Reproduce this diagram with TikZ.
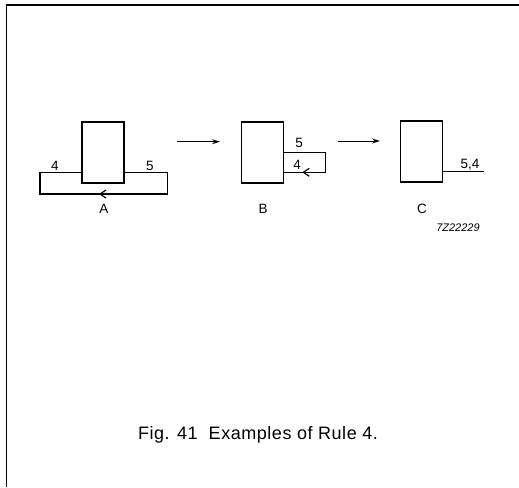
\documentclass[tikz,border=0pt]{standalone}
\usepackage{fontspec}
\setmainfont{Liberation Sans}
\usepackage{tikz}
\usetikzlibrary{arrows, arrows.meta, decorations.markings, positioning}

\begin{document}
\begin{tikzpicture}[
		x=1pt,
		y=-1pt,
		every node/.style={
				font=\fontsize{13.5}{14}\selectfont,
				inner sep=1pt
			},
		blk/.style={
				draw,
				line width=1.6pt,
				minimum width=42pt, % Width of a block
				minimum height=61pt, % Height of a block
				inner sep=0pt
			},
		wire/.style={line width=1.3pt},
		flow/.style={-{Stealth[length=8pt, width=5pt]}, line width=1pt},
		backtip/.style={
				postaction={decorate},
				decoration={markings, mark=at position #1 with {\arrow{Straight Barb[length=6pt, width=8pt, line width=1.2pt]}}}
			}
	]
	\useasboundingbox (0,0) rectangle (519,487);

	% frame
	\draw[line width=1.4pt] (6.7,487) -- (6.7,5) -- (519,5);

	% A
	\node[blk] (blkA) at (103,152.5) {};
	\coordinate (a1) at (167.7,172.7);
	\coordinate (a2) at (167.7,194);
	\coordinate (a3) at (40,194);
	\coordinate (a4) at (40,172.7);
	\draw[wire, backtip=133pt] (blkA.east |- a1) -- (a1) -- (a2) -- (a3) -- (a4) -- (blkA.west |- a4);
	\node (lA4) at (55,166) {4};
	\node (lA5) at (150,166) {5};
	\node (nameA) at (104,209) {A};

	% A -> B
	\coordinate (ab1) at (177,141.7);
	\coordinate (ab2) at (220,141.7);
	\draw[flow] (ab1) -- (ab2);

	% B
	\node[blk] (blkB) at (262.5,152.2) {};
	\coordinate (b1) at (325.7,152.2);
	\coordinate (b2) at (325.7,172.3);
	\draw[wire, backtip=85pt] (blkB.east) -- (b1) -- (b2) -- (blkB.east |- b2);
	\node (lB5) at (299,143) {5};
	\node (lB4) at (297,165) {4};
	\node (nameB) at (263,209) {B};

	% B -> C
	\coordinate (bc1) at (338,141);
	\coordinate (bc2) at (380,141);
	\draw[flow] (bc1) -- (bc2);

	% C
	\node[blk] (blkC) at (421.4,151.7) {};
	\coordinate (c1) at (484,171.7);
	\draw[wire] (blkC.east |- c1) -- (c1);
	\node (lC54) at (470,165) {5,4};
	\node (nameC) at (422,209) {C};
	\node[font=\fontsize{11}{12}\selectfont\itshape] (code) at (458,228) {7Z22229};

	% caption
	\node[font=\fontsize{18}{19}\selectfont\addfontfeatures{LetterSpace=3}] (caption) at (258,435) {Fig. 41\ \ Examples of Rule 4.};
\end{tikzpicture}
\end{document}
